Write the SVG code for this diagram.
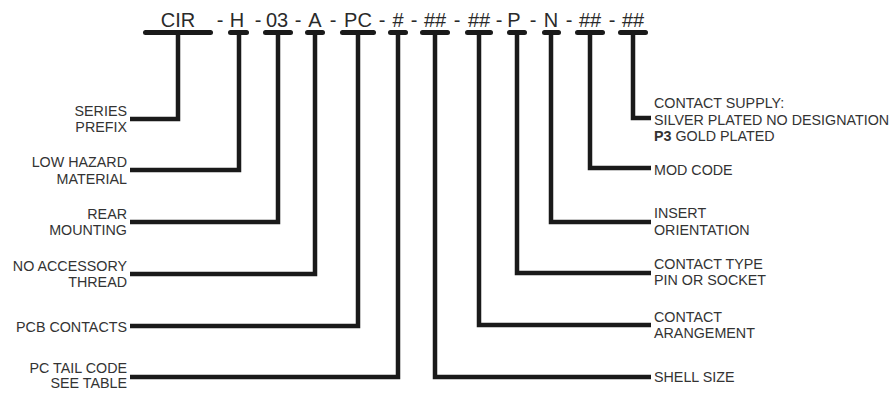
<svg xmlns="http://www.w3.org/2000/svg" width="896" height="395" viewBox="0 0 896 395">
<style>
.code{font-family:"Liberation Sans",Arial,sans-serif;font-size:20px;fill:#2a2a2a;text-anchor:middle}
.lbl{font-family:"Liberation Sans",Arial,sans-serif;font-size:14.3px;fill:#333}
.l{text-anchor:end}
.bar{fill:#1a1a1a}
.conn path{fill:none;stroke:#1a1a1a;stroke-width:4.5;stroke-linejoin:miter}
</style>
<rect width="896" height="395" fill="#fff"/>
<g id="code">
<text class="code" x="178" y="27">CIR</text>
<text class="code" x="220" y="27">-</text>
<text class="code" x="237" y="27">H</text>
<text class="code" x="258" y="27">-</text>
<text class="code" x="277" y="27">03</text>
<text class="code" x="298" y="27">-</text>
<text class="code" x="315" y="27">A</text>
<text class="code" x="333" y="27">-</text>
<text class="code" x="358" y="27">PC</text>
<text class="code" x="382" y="27">-</text>
<text class="code" x="398" y="27">#</text>
<text class="code" x="414" y="27">-</text>
<text class="code" x="435" y="27">##</text>
<text class="code" x="457" y="27">-</text>
<text class="code" x="479" y="27">##</text>
<text class="code" x="499" y="27">-</text>
<text class="code" x="514" y="27">P</text>
<text class="code" x="533" y="27">-</text>
<text class="code" x="551" y="27">N</text>
<text class="code" x="569" y="27">-</text>
<text class="code" x="590" y="27">##</text>
<text class="code" x="612" y="27">-</text>
<text class="code" x="633" y="27">##</text>
</g>
<g id="bars">
<rect class="bar" x="143" y="30" width="70" height="5" rx="2.5"/>
<rect class="bar" x="228" y="30" width="21" height="5" rx="2.5"/>
<rect class="bar" x="263" y="30" width="30" height="5" rx="2.5"/>
<rect class="bar" x="305" y="30" width="20" height="5" rx="2.5"/>
<rect class="bar" x="340" y="30" width="36" height="5" rx="2.5"/>
<rect class="bar" x="388" y="30" width="20" height="5" rx="2.5"/>
<rect class="bar" x="420" y="30" width="30" height="5" rx="2.5"/>
<rect class="bar" x="465" y="30" width="28" height="5" rx="2.5"/>
<rect class="bar" x="507" y="30" width="20" height="5" rx="2.5"/>
<rect class="bar" x="542" y="30" width="19" height="5" rx="2.5"/>
<rect class="bar" x="575" y="30" width="30" height="5" rx="2.5"/>
<rect class="bar" x="618" y="30" width="30" height="5" rx="2.5"/>
</g>
<g id="connectors" class="conn">
<path d="M178,33 V119 H130"/>
<path d="M239,33 V170 H130"/>
<path d="M278,33 V222 H130"/>
<path d="M315,33 V274 H130"/>
<path d="M358,33 V326 H130"/>
<path d="M398,33 V377 H130"/>
<path d="M435,33 V377 H651"/>
<path d="M479,33 V325 H651"/>
<path d="M517,33 V273 H651"/>
<path d="M551,33 V222 H651"/>
<path d="M590,33 V168 H651"/>
<path d="M633,33 V118 H651"/>
</g>
<g id="series-prefix"><text class="lbl l" x="127" y="116">SERIES</text><text class="lbl l" x="127" y="132">PREFIX</text></g>
<g id="low-hazard"><text class="lbl l" x="127" y="167">LOW HAZARD</text><text class="lbl l" x="127" y="184">MATERIAL</text></g>
<g id="rear-mounting"><text class="lbl l" x="127" y="219">REAR</text><text class="lbl l" x="127" y="235">MOUNTING</text></g>
<g id="no-accessory"><text class="lbl l" x="127" y="271">NO ACCESSORY</text><text class="lbl l" x="127" y="287">THREAD</text></g>
<g id="pcb-contacts"><text class="lbl l" x="127" y="332">PCB CONTACTS</text></g>
<g id="pc-tail"><text class="lbl l" x="127" y="373">PC TAIL CODE</text><text class="lbl l" x="127" y="388">SEE TABLE</text></g>
<g id="contact-supply"><text class="lbl" x="654" y="108">CONTACT SUPPLY:</text><text class="lbl" x="654" y="125">SILVER PLATED NO DESIGNATION</text><text class="lbl" x="654" y="141"><tspan font-weight="bold">P3</tspan> GOLD PLATED</text></g>
<g id="mod-code"><text class="lbl" x="654" y="175">MOD CODE</text></g>
<g id="insert-orientation"><text class="lbl" x="654" y="218">INSERT</text><text class="lbl" x="654" y="235">ORIENTATION</text></g>
<g id="contact-type"><text class="lbl" x="654" y="269">CONTACT TYPE</text><text class="lbl" x="654" y="285">PIN OR SOCKET</text></g>
<g id="contact-arangement"><text class="lbl" x="654" y="322">CONTACT</text><text class="lbl" x="654" y="338">ARANGEMENT</text></g>
<g id="shell-size"><text class="lbl" x="654" y="382">SHELL SIZE</text></g>
</svg>
